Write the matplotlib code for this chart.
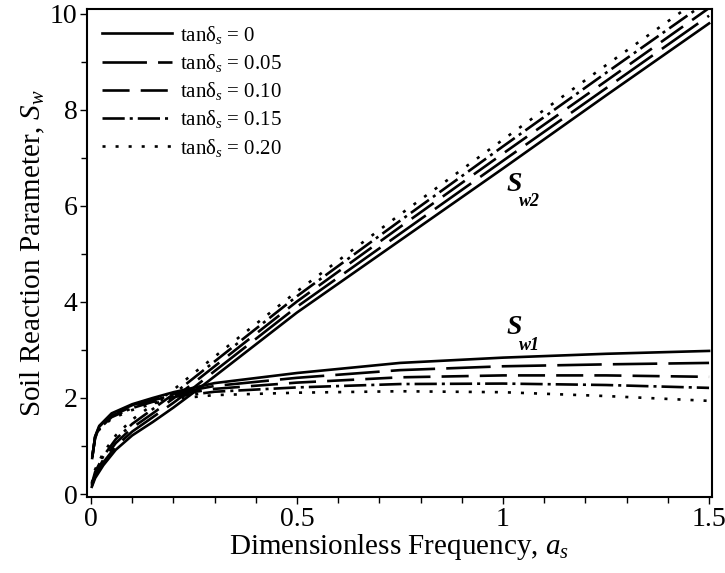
import numpy as np
import matplotlib
matplotlib.use("Agg")
import matplotlib.pyplot as plt
from matplotlib.ticker import MultipleLocator, FixedLocator

plt.rcParams['font.family'] = ['Liberation Serif', 'DejaVu Serif']
plt.rcParams['mathtext.fontset'] = 'custom'
plt.rcParams['mathtext.rm'] = 'Liberation Serif'
plt.rcParams['mathtext.it'] = 'Liberation Serif:italic'
plt.rcParams['mathtext.bf'] = 'Liberation Serif:bold'
plt.rcParams['lines.scale_dashes'] = False

# --- values
tan_delta = ["0", "0.05", "0.10", "0.15", "0.20"]

a_sw1 = [0.003, 0.01, 0.02, 0.05, 0.1, 0.15, 0.2, 0.3, 0.5, 0.75, 1.0, 1.25, 1.5]
sw1_0 = [0.75, 1.20, 1.42, 1.68, 1.87, 2.00, 2.12, 2.31, 2.52, 2.73, 2.84, 2.92, 2.98]
sw1_05 = [0.76, 1.19, 1.40, 1.66, 1.85, 1.98, 2.09, 2.25, 2.42, 2.58, 2.66, 2.70, 2.73]
sw1_10 = [0.77, 1.18, 1.38, 1.63, 1.82, 1.95, 2.06, 2.19, 2.32, 2.43, 2.47, 2.47, 2.44]
sw1_15 = [0.78, 1.17, 1.36, 1.60, 1.79, 1.92, 2.02, 2.13, 2.22, 2.29, 2.30, 2.27, 2.21]
sw1_20 = [0.79, 1.16, 1.34, 1.57, 1.75, 1.88, 1.98, 2.06, 2.11, 2.14, 2.12, 2.04, 1.94]

a_sw2 = [0.002, 0.01, 0.03, 0.06, 0.1, 0.15, 0.2, 0.25, 0.3, 0.5, 0.75, 1.0, 1.25, 1.5]
sw2_0 = [0.15, 0.33, 0.60, 0.92, 1.22, 1.50, 1.80, 2.12, 2.45, 3.78, 5.28, 6.78, 8.30, 9.80]
sw2_05 = [0.17, 0.37, 0.66, 0.99, 1.30, 1.60, 1.90, 2.22, 2.56, 3.90, 5.42, 6.94, 8.45, 9.96]
sw2_10 = [0.19, 0.41, 0.72, 1.06, 1.38, 1.68, 1.99, 2.32, 2.66, 4.01, 5.56, 7.09, 8.60, 10.12]
sw2_15 = [0.21, 0.46, 0.79, 1.14, 1.46, 1.77, 2.08, 2.42, 2.76, 4.12, 5.69, 7.24, 8.77, 10.28]
sw2_20 = [0.23, 0.51, 0.86, 1.22, 1.55, 1.86, 2.17, 2.52, 2.86, 4.22, 5.82, 7.38, 8.93, 10.45]

SW1 = [sw1_0, sw1_05, sw1_10, sw1_15, sw1_20]
SW2 = [sw2_0, sw2_05, sw2_10, sw2_15, sw2_20]

# Maple-like dash patterns (points)
STYLES = [
    '-',
    (0, (32, 8)),
    (0, (19.5, 8)),
    (0, (16, 3.6, 2.2, 3.6)),
    (0, (2.2, 7.2)),
]
LW = 1.9

fig = plt.figure(figsize=(7.25, 5.73), dpi=100)
ax = fig.add_axes([0.12, 0.1326, 0.862, 0.8517])

for i, t in enumerate(tan_delta):
    ax.plot(a_sw1, SW1[i], color='black', lw=LW, linestyle=STYLES[i],
            label=r"tan$\mathrm{δ}_{s}$ = " + t)
    ax.plot(a_sw2, SW2[i], color='black', lw=LW, linestyle=STYLES[i])

# curve labels
ax.text(1.027, 6.44, "S", fontsize=20, fontweight='bold', fontstyle='italic',
        ha='center', va='center')
ax.text(1.063, 6.10, "w2", fontsize=13, fontweight='bold', fontstyle='italic',
        ha='center', va='center')
ax.text(1.027, 3.46, "S", fontsize=20, fontweight='bold', fontstyle='italic',
        ha='center', va='center')
ax.text(1.063, 3.10, "w1", fontsize=13, fontweight='bold', fontstyle='italic',
        ha='center', va='center')

ax.set_xlim(-0.0097, 1.507)
ax.set_ylim(-0.0625, 10.1)
ax.xaxis.set_major_locator(FixedLocator([0, 0.5, 1, 1.5]))
ax.set_xticklabels(["0", "0.5", "1", "1.5"])
ax.xaxis.set_minor_locator(MultipleLocator(0.1))
ax.yaxis.set_major_locator(MultipleLocator(2))
ax.yaxis.set_minor_locator(MultipleLocator(1))
ax.tick_params(which='both', direction='out', width=1.0, labelsize=20, pad=2)
ax.tick_params(which='major', length=5)
ax.tick_params(which='minor', length=4)
for s in ax.spines.values():
    s.set_linewidth(1.5)

ax.set_xlabel(r"Dimensionless Frequency, $a_{s}$", fontsize=21, labelpad=0)
ax.set_ylabel(r"Soil Reaction Parameter, $S_{w}$", fontsize=21, labelpad=2)

ax.legend(loc='upper left', frameon=False, fontsize=15, handlelength=3.4,
          handletextpad=0.35, labelspacing=0.3, borderaxespad=0.45,
          borderpad=0.25)

fig.savefig("out.png", dpi=100)
